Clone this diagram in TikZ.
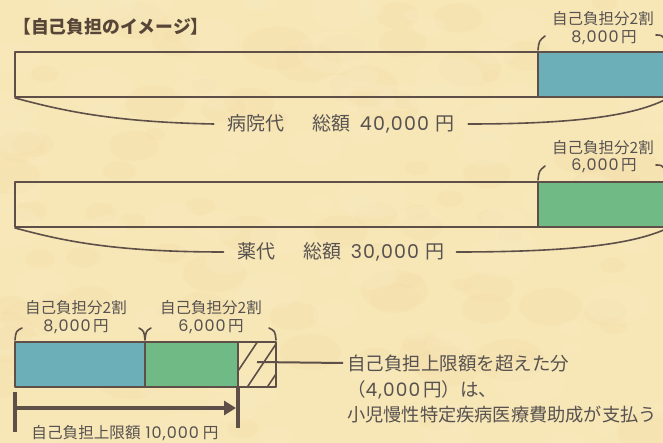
\documentclass[tikz,border=0pt]{standalone}
\usepackage{fontspec}
\setmainfont{Noto Sans CJK JP}
\newfontfamily\numf{Poppins}[LetterSpace=6]
\newcommand\nm[2]{{\fontsize{#1}{#1}\selectfont\numf #2}}
\usetikzlibrary{arrows.meta}
\definecolor{bgc}{HTML}{F7E6B6}
\definecolor{bgl}{HTML}{FBF0CC}
\definecolor{bgd}{HTML}{EFD59A}
\definecolor{ink}{HTML}{5E5048}
\definecolor{txt}{HTML}{575250}
\definecolor{ttl}{HTML}{574538}
\definecolor{blu}{HTML}{6DAFB9}
\definecolor{grn}{HTML}{70BB85}
\tikzset{
  boxline/.style={draw=ink, line width=2pt},
  brace/.style={draw=ink, line width=1.6pt, line cap=round},
  lbl/.style={text=txt, font=\fontsize{15.5}{17}\selectfont, inner sep=0pt},
  big/.style={text=txt, font=\fontsize{19}{21}\selectfont, inner sep=0pt},
  note/.style={text=txt, font=\fontsize{18.5}{20}\selectfont, inner sep=0pt, anchor=west},
}
\begin{document}
\begin{tikzpicture}[x=1pt,y=-1pt,line join=round]
\useasboundingbox (0,0) rectangle (663,443);
\clip (0,0) rectangle (663,443);
\fill[bgc] (0,0) rectangle (663,443);
% parchment mottling
\pgfmathsetseed{11}
\foreach \i in {1,...,90} {
  \pgfmathsetmacro\xx{rnd*663}
  \pgfmathsetmacro\yy{rnd*443}
  \pgfmathsetmacro\rr{8+rnd*28}
  \fill[bgd,opacity=0.12] (\xx,\yy) circle[x radius=\rr, y radius=0.6*\rr];
}
\foreach \i in {1,...,90} {
  \pgfmathsetmacro\xx{rnd*663}
  \pgfmathsetmacro\yy{rnd*443}
  \pgfmathsetmacro\rr{8+rnd*28}
  \fill[bgl,opacity=0.18] (\xx,\yy) circle[x radius=\rr, y radius=0.6*\rr];
}

% title
\node[text=ttl, font=\fontsize{17.8}{19}\selectfont\bfseries, inner sep=0pt, anchor=west] (title) at (13,27) {【自己負担のイメージ】};

% ---- box 1 ----
\fill[blu] (538,52) rectangle (690,97);
\draw[boxline] (15,52) rectangle (690,97);
\draw[boxline] (538,52) -- (538,97);
\coordinate (b1sw) at (15,98);
\coordinate (b1se) at (672,96);
\coordinate (b1h) at (538,50);
\node[lbl] (l1a) at (603,19) {自己負担分2割};
\node[lbl] (l1b) at (604,38) {\nm{16}{8,000}\,円};
\draw[brace] (b1h) .. controls (539,41) .. (545,36);
\draw[brace] (656,35) .. controls (662,35) .. (666,42);
\node[big] (t1) at (341,124) {病院代\hspace{28pt}総額\hspace{9pt}\nm{19}{40,000}\hspace{6pt}円};
\draw[brace] (b1sw) .. controls (60,110) and (110,122) .. ([xshift=-14pt]t1.west);
\draw[brace] ([xshift=14pt]t1.east) .. controls (580,124) and (640,115) .. (b1se);

% ---- box 2 ----
\fill[grn] (538,182) rectangle (690,227);
\draw[boxline] (15,182) rectangle (690,227);
\draw[boxline] (538,182) -- (538,227);
\coordinate (b2sw) at (15,228);
\coordinate (b2se) at (672,226);
\coordinate (b2h) at (538,180);
\node[lbl] (l2a) at (603,148) {自己負担分2割};
\node[lbl] (l2b) at (604,166) {\nm{16}{6,000}\,円};
\draw[brace] (b2h) .. controls (539,171) .. (545,166);
\draw[brace] (656,165) .. controls (662,165) .. (666,172);
\node[big] (t2) at (341,252) {薬代\hspace{28pt}総額\hspace{9pt}\nm{19}{30,000}\hspace{6pt}円};
\draw[brace] (b2sw) .. controls (60,240) and (110,252) .. ([xshift=-14pt]t2.west);
\draw[brace] ([xshift=12pt]t2.east) .. controls (580,252) and (640,243) .. (b2se);

% ---- box 3 ----
\fill[blu] (15,342) rectangle (145,387);
\fill[grn] (145,342) rectangle (238,387);
\begin{scope}
\clip (238,342) rectangle (276,387);
\foreach \o in {0,20,40,60} {
  \draw[ink, line width=1.6pt] (222+\o,395) -- (262+\o,335);
}
\end{scope}
\draw[boxline] (15,342) rectangle (276,387);
\draw[boxline] (145,342) -- (145,387);
\draw[boxline] (238,342) -- (238,387);
\coordinate (hatch) at (257,362);

\node[lbl] (l3a) at (76,308) {自己負担分2割};
\node[lbl] (l3b) at (76,327) {\nm{16}{8,000}\,円};
\node[lbl] (l4a) at (211,308) {自己負担分2割};
\node[lbl] (l4b) at (211,327) {\nm{16}{6,000}\,円};
\draw[brace] (15,340) .. controls (16,331) .. (22,328);
\draw[brace] (139,328) .. controls (144,331) .. (145,340) .. controls (146,331) .. (151,328);
\draw[brace] (276,340) .. controls (275,331) .. (269,328);

% note
\node[note] (n1) at (347,363) {自己負担上限額を超えた分};
\node[note] (n2) at (347,390) {（\nm{18.5}{4,000}\,円）は、};
\node[note, font=\fontsize{18.2}{20}\selectfont] (n3) at (347,415) {小児慢性特定疾病医療費助成が支払う};
\draw[ink, line width=2pt] (hatch) -- ([xshift=-4pt]n1.west);

% limit arrow
\draw[ink, line width=4pt] (15,392) -- (15,432);
\draw[ink, line width=3.5pt] (238,388) -- (238,428);
\coordinate (a0) at (17,408);
\coordinate (a1) at (236,408);
\draw[ink, line width=4.5pt, -{Triangle[length=12pt,width=14pt]}] (a0) -- (a1);
\node[lbl, font=\fontsize{15.6}{18}\selectfont] (lim) at (125,433) {自己負担上限額\hspace{5pt}\nm{16}{10,000}\hspace{4pt}円};
\end{tikzpicture}
\end{document}
